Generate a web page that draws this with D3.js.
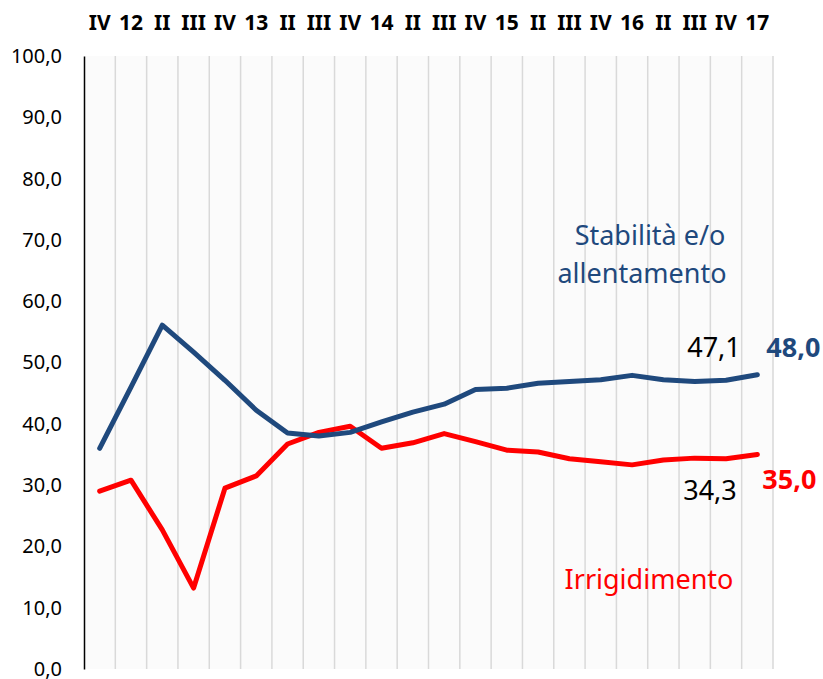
<!DOCTYPE html>
<html>
<head>
<meta charset="utf-8">
<script src="https://cdn.jsdelivr.net/npm/d3@7"></script>
<style>
  body { margin: 0; background: #fff; }
  text { font-family: "Noto Sans", "Open Sans", sans-serif; }
</style>
</head>
<body>
<div id="app"></div>
<script>
// quarters, Q4 2011 .. Q1 2017
var quarters = ["IV", "12", "II", "III", "IV", "13", "II", "III", "IV", "14", "II",
                "III", "IV", "15", "II", "III", "IV", "16", "II", "III", "IV", "17"];

var stabilita = [36.0, 46.0, 56.1, 51.7, 47.1, 42.2, 38.5, 38.0, 38.6, 40.3, 41.9,
                 43.2, 45.6, 45.8, 46.6, 46.9, 47.2, 47.9, 47.2, 46.9, 47.1, 48.0];

var irrigidimento = [29.0, 30.8, 22.7, 13.2, 29.5, 31.5, 36.7, 38.6, 39.6, 36.0, 36.9,
                     38.4, 37.1, 35.7, 35.4, 34.3, 33.8, 33.3, 34.1, 34.4, 34.3, 35.0];

var yTicks = [0, 10, 20, 30, 40, 50, 60, 70, 80, 90, 100];

var blue = "#1f497d",
    red = "#ff0000";

var width = 823,
    height = 679,
    margin = {top: 56, right: 50, bottom: 10, left: 84};

var svg = d3.select("#app").append("svg")
    .attr("width", width)
    .attr("height", height);

var x = d3.scaleBand()
    .domain(d3.range(quarters.length))
    .range([margin.left, 773]);

var y = d3.scaleLinear()
    .domain([0, 100])
    .range([669, margin.top]);

var fmt = function(v) { return d3.format(".1f")(v).replace(".", ","); };

// plot background
svg.append("rect")
    .attr("x", margin.left)
    .attr("y", y(100))
    .attr("width", x.range()[1] - margin.left)
    .attr("height", y(0) - y(100))
    .style("fill", "#fbfbfb");

// vertical grid at category boundaries
svg.append("g")
    .selectAll("line")
    .data(d3.range(1, quarters.length + 1))
    .enter().append("line")
    .attr("x1", function(d) { return x.range()[0] + d * x.step(); })
    .attr("x2", function(d) { return x.range()[0] + d * x.step(); })
    .attr("y1", y(100))
    .attr("y2", y(0))
    .style("stroke", "#d9d9d9")
    .style("stroke-width", 1.5);

// y axis
var yAxis = svg.append("g")
    .attr("transform", "translate(" + margin.left + ",0)")
    .call(d3.axisLeft(y).tickValues(yTicks).tickFormat(fmt).tickSize(0).tickPadding(22));

yAxis.select(".domain").style("stroke", "#000").style("stroke-width", 1.5);
yAxis.selectAll("text")
    .style("font-size", "20px")
    .style("fill", "#000")
    .style("font-family", "'Noto Sans', sans-serif");

// top category labels
svg.append("g")
    .selectAll("text")
    .data(quarters)
    .enter().append("text")
    .attr("x", function(d, i) { return x(i) + x.bandwidth() / 2; })
    .attr("y", 30)
    .attr("text-anchor", "middle")
    .style("font-size", "21px")
    .style("font-weight", "bold")
    .text(function(d) { return d; });

var line = d3.line()
    .x(function(d, i) { return x(i) + x.bandwidth() / 2; })
    .y(function(d) { return y(d); });

svg.append("path")
    .datum(irrigidimento)
    .attr("d", line)
    .style("fill", "none")
    .style("stroke", red)
    .style("stroke-width", 5)
    .style("stroke-linejoin", "round")
    .style("stroke-linecap", "round");

svg.append("path")
    .datum(stabilita)
    .attr("d", line)
    .style("fill", "none")
    .style("stroke", blue)
    .style("stroke-width", 5)
    .style("stroke-linejoin", "round")
    .style("stroke-linecap", "round");

// value labels
var last = quarters.length - 1;
var cx = function(i) { return x(i) + x.bandwidth() / 2; };

svg.append("text")
    .attr("x", cx(last - 1) - 12)
    .attr("y", y(stabilita[last - 1]) - 23)
    .attr("text-anchor", "middle")
    .style("font-size", "27px")
    .text(fmt(stabilita[last - 1]));

svg.append("text")
    .attr("x", cx(last) + 9)
    .attr("y", y(stabilita[last]) - 18)
    .style("font-size", "27px")
    .style("font-weight", "bold")
    .style("fill", blue)
    .text(fmt(stabilita[last]));

svg.append("text")
    .attr("x", cx(last - 1) - 16)
    .attr("y", y(irrigidimento[last - 1]) + 41)
    .attr("text-anchor", "middle")
    .style("font-size", "27px")
    .text(fmt(irrigidimento[last - 1]));

svg.append("text")
    .attr("x", cx(last) + 5)
    .attr("y", y(irrigidimento[last]) + 35)
    .style("font-size", "27px")
    .style("font-weight", "bold")
    .style("fill", red)
    .text(fmt(irrigidimento[last]));

// series names
svg.append("text")
    .attr("x", 650)
    .attr("y", 245)
    .attr("text-anchor", "middle")
    .style("font-size", "27px")
    .style("fill", blue)
    .text("Stabilità e/o");

svg.append("text")
    .attr("x", 642)
    .attr("y", 283)
    .attr("text-anchor", "middle")
    .style("font-size", "27px")
    .style("fill", blue)
    .text("allentamento");

svg.append("text")
    .attr("x", 649)
    .attr("y", 589)
    .attr("text-anchor", "middle")
    .style("font-size", "27px")
    .style("fill", red)
    .text("Irrigidimento");
</script>
</body>
</html>
